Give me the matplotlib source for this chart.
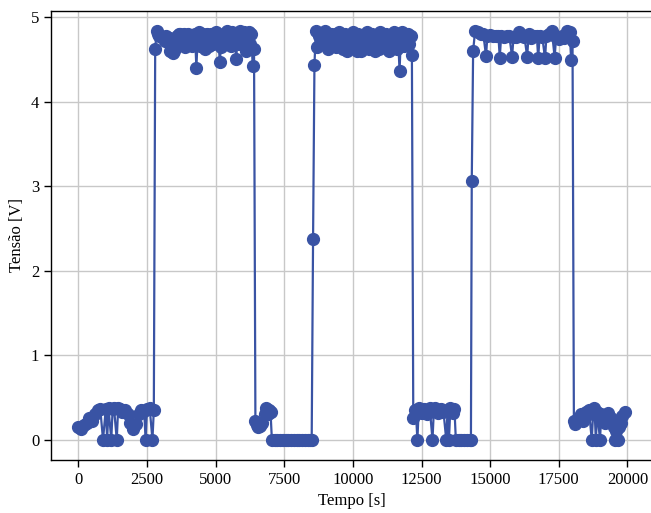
import numpy as np
import matplotlib
matplotlib.use('Agg')
import matplotlib.pyplot as plt

# === DADOS ===
tempo_baixo1 = [0, 100, 200, 300, 400, 500, 600, 700, 800, 900, 1000, 1050, 1100, 1200, 1250,
                1300, 1400, 1450, 1500, 1600, 1700, 1800, 1900, 2000, 2100, 2200, 2300, 2400,
                2450, 2500, 2600, 2700, 2750]
tensao_baixo1 = [0.15, 0.13, 0.17, 0.2, 0.25, 0.22, 0.3, 0.35, 0.36, 0.0, 0.36, 0.0, 0.37, 0.0, 0.36,
                 0.37, 0.0, 0.37, 0.36, 0.33, 0.35, 0.3, 0.2, 0.12, 0.18, 0.3, 0.35, 0.34,
                 0.0, 0.36, 0.37, 0.0, 0.35]

tempo_alto1 = [2800, 2850, 2900, 2950, 3000, 3050, 3100, 3150, 3200, 3250, 3300, 3350, 3400, 3450,
               3500, 3550, 3600, 3650, 3700, 3750, 3800, 3850, 3900, 3950, 4000, 4050, 4100, 4150,
               4200, 4250, 4300, 4350, 4400, 4450, 4500, 4550, 4600, 4650, 4700, 4750, 4800, 4850,
               4900, 4950, 5000, 5050, 5100, 5150, 5200, 5250, 5300, 5350, 5400, 5450, 5500, 5550,
               5600, 5650, 5700, 5750, 5800, 5850, 5900, 5950, 6000, 6050, 6100, 6150, 6200, 6250,
               6300, 6350, 6400]
tensao_alto1 = [4.62, 4.83, 4.8, 4.78, 4.77, 4.76, 4.76, 4.72, 4.78, 4.75, 4.75, 4.6, 4.7, 4.57,
                4.6, 4.72, 4.77, 4.8, 4.8, 4.68, 4.78, 4.8, 4.65, 4.74, 4.8, 4.7, 4.78, 4.66,
                4.7, 4.8, 4.4, 4.78, 4.82, 4.66, 4.7, 4.8, 4.62, 4.75, 4.8, 4.66, 4.75, 4.8,
                4.68, 4.72, 4.82, 4.7, 4.8, 4.47, 4.65, 4.75, 4.8, 4.68, 4.83, 4.76, 4.72, 4.66,
                4.82, 4.7, 4.8, 4.5, 4.75, 4.68, 4.83, 4.72, 4.78, 4.82, 4.6, 4.74, 4.82, 4.68,
                4.8, 4.42, 4.62]

tempo_baixo2 = [6450, 6500, 6550, 6600, 6700, 6800, 6850, 6900, 6950, 7000, 7050, 7150, 7250, 7350,
                7450, 7550, 7650, 7750, 7850, 7950, 8050, 8150, 8250, 8350, 8450, 8500]
tensao_baixo2 = [0.22, 0.17, 0.15, 0.16, 0.2, 0.3, 0.37, 0.3, 0.35, 0.33, 0.0, 0.0, 0.0, 0.0,
                 0.0, 0.0, 0.0, 0.0, 0.0, 0.0, 0.0, 0.0, 0.0, 0.0, 0.0, 0.0]

tempo_alto2 = [8550, 8600, 8650, 8700, 8750, 8800, 8850, 8900, 8950, 9000, 9050, 9100, 9150, 9200,
               9250, 9300, 9350, 9400, 9450, 9500, 9550, 9600, 9650, 9700, 9750, 9800, 9850, 9900,
               9950, 10000, 10050, 10100, 10150, 10200, 10250, 10300, 10350, 10400, 10450, 10500,
               10550, 10600, 10650, 10700, 10750, 10800, 10850, 10900, 10950, 11000, 11050, 11100,
               11150, 11200, 11250, 11300, 11350, 11400, 11450, 11500, 11550, 11600, 11650, 11700,
               11750, 11800, 11850, 11900, 11950, 12000, 12050, 12100, 12150]
tensao_alto2 = [2.37, 4.43, 4.83, 4.65, 4.78, 4.8, 4.68, 4.72, 4.8, 4.83, 4.7, 4.62, 4.75, 4.8,
                4.66, 4.76, 4.8, 4.65, 4.72, 4.82, 4.68, 4.7, 4.62, 4.8, 4.72, 4.6, 4.7, 4.78,
                4.66, 4.82, 4.72, 4.65, 4.6, 4.8, 4.7, 4.6, 4.72, 4.78, 4.66, 4.82,
                4.7, 4.62, 4.74, 4.8, 4.66, 4.6, 4.72, 4.78, 4.62, 4.82, 4.7, 4.65,
                4.74, 4.8, 4.66, 4.6, 4.72, 4.78, 4.68, 4.82, 4.7, 4.62, 4.74, 4.36,
                4.78, 4.82, 4.66, 4.7, 4.8, 4.8, 4.68, 4.78, 4.55]

tempo_baixo3 = [12200, 12250, 12300, 12350, 12400, 12500, 12600, 12700, 12800, 12900, 12950, 13000,
                13100, 13200, 13300, 13400, 13450, 13500, 13550, 13650, 13700, 13750, 13850, 13950,
                14050, 14150, 14250, 14300]
tensao_baixo3 = [0.25, 0.35, 0.3, 0.0, 0.37, 0.32, 0.36, 0.3, 0.37, 0.0, 0.35, 0.37,
                 0.32, 0.36, 0.33, 0.0, 0.35, 0.0, 0.37, 0.32, 0.36, 0.0, 0.0, 0.0,
                 0.0, 0.0, 0.0, 0.0]

tempo_alto3 = [14330, 14380, 14450, 14550, 14650, 14750, 14850, 14900, 15000, 15100, 15200, 15300,
               15350, 15400, 15500, 15600, 15700, 15800, 15850, 15950, 16050, 16150, 16250, 16350,
               16400, 16500, 16600, 16700, 16750, 16800, 16900, 17000, 17050, 17150, 17250, 17350,
               17400, 17500, 17600, 17700, 17800, 17900, 17950, 18000]
tensao_alto3 = [3.06, 4.6, 4.83, 4.82, 4.8, 4.8, 4.54, 4.78, 4.79, 4.78, 4.77, 4.78,
                4.52, 4.77, 4.76, 4.78, 4.77, 4.53, 4.76, 4.76, 4.82, 4.78, 4.76, 4.53,
                4.8, 4.75, 4.77, 4.78, 4.51, 4.77, 4.76, 4.51, 4.78, 4.8, 4.83, 4.52,
                4.76, 4.74, 4.77, 4.75, 4.83, 4.82, 4.49, 4.72]

tempo_baixo4 = [18050, 18100, 18200, 18300, 18400, 18500, 18600, 18700, 18750, 18800, 18850, 18900,
                19000, 19050, 19100, 19200, 19300, 19400, 19500, 19550, 19600, 19650, 19700, 19750,
                19800, 19900]
tensao_baixo4 = [0.22, 0.18, 0.25, 0.3, 0.22, 0.33, 0.35, 0.0, 0.3, 0.37, 0.0, 0.33,
                 0.0, 0.3, 0.27, 0.2, 0.32, 0.25, 0.15, 0.0, 0.1, 0.0, 0.15, 0.2,
                 0.28, 0.33]

tempo = np.concatenate([tempo_baixo1, tempo_alto1, tempo_baixo2, tempo_alto2,
                        tempo_baixo3, tempo_alto3, tempo_baixo4])
tensao = np.concatenate([tensao_baixo1, tensao_alto1, tensao_baixo2, tensao_alto2,
                         tensao_baixo3, tensao_alto3, tensao_baixo4])

# === GRÁFICO ===
plt.rcParams['font.family'] = ['Liberation Serif', 'DejaVu Serif']
plt.rcParams['font.size'] = 12

fig = plt.figure(figsize=(6.51, 5.13), dpi=100)
ax = fig.add_axes([51 / 651, 1 - 460 / 513, 601 / 651, 449 / 513])

ax.plot(tempo, tensao, '-o', color='#3953a4', markersize=8.5, linewidth=1.6)

ax.set_xlabel('Tempo [s]')
ax.set_ylabel('Tensão [V]')
ax.grid(True, color='#c8c8c8', linewidth=1.0)
ax.set_axisbelow(True)
ax.tick_params(direction='out', length=5, width=1, colors='black', labelsize=12)
for s in ax.spines.values():
    s.set_linewidth(1.0)
    s.set_color('black')

fig.savefig('out.png', dpi=100)
